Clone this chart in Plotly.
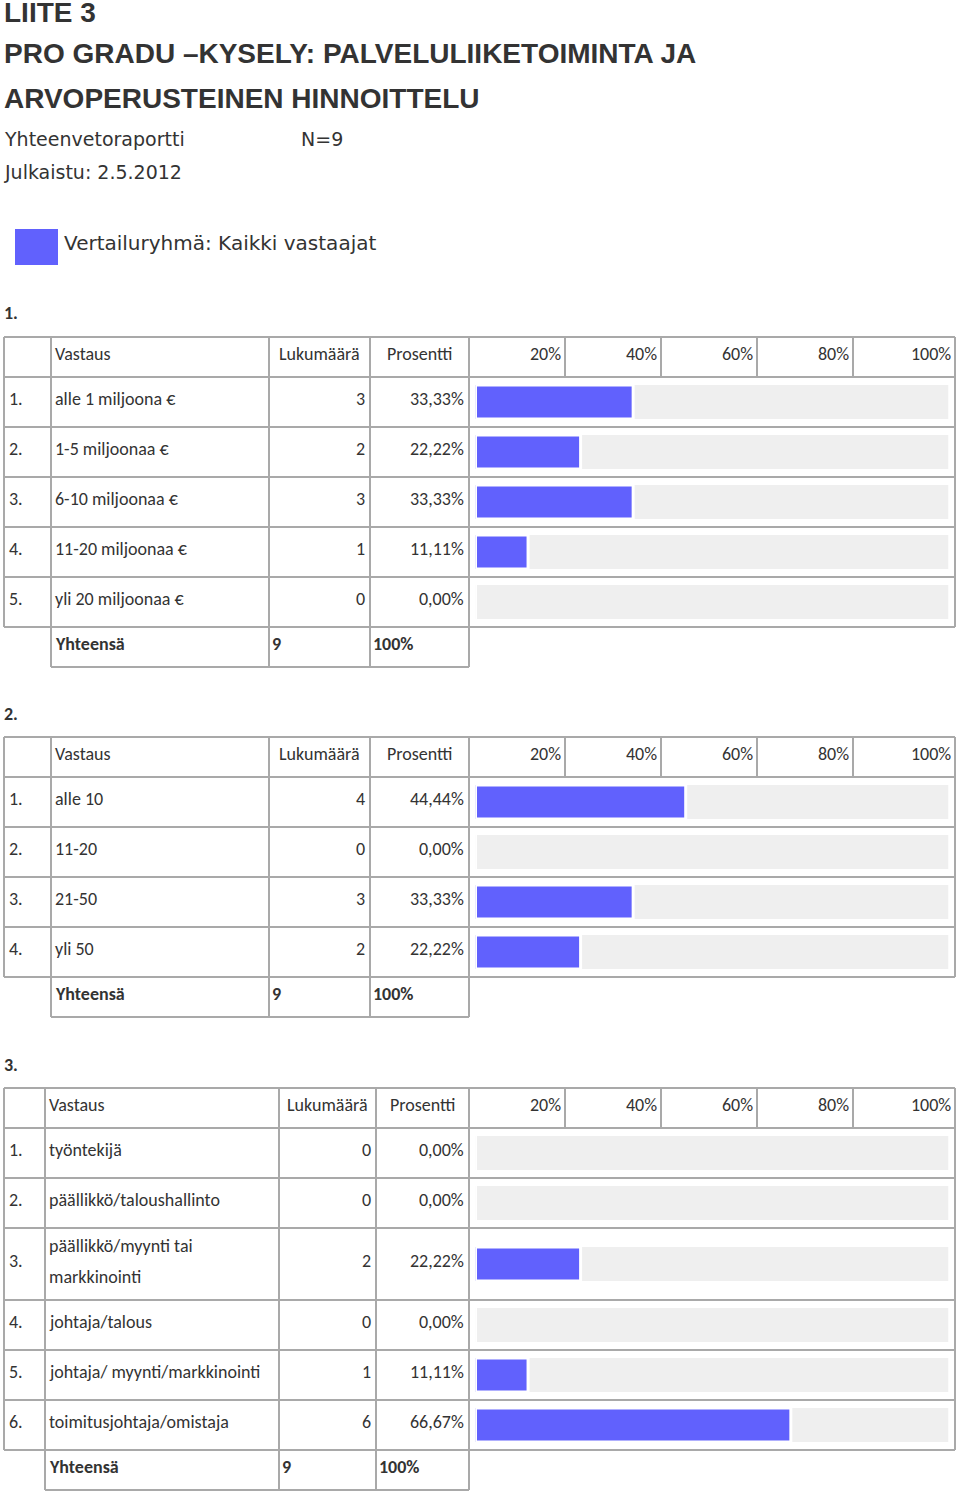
import plotly.graph_objects as go

W, H = 960, 1495

# ---------------- data ----------------
q1_labels = ["alle 1 miljoona €", "1-5 miljoonaa €", "6-10 miljoonaa €",
             "11-20 miljoonaa €", "yli 20 miljoonaa €"]
q1_counts = [3, 2, 3, 1, 0]
q1_pcts = [33.33, 22.22, 33.33, 11.11, 0.00]

q2_labels = ["alle 10", "11-20", "21-50", "yli 50"]
q2_counts = [4, 0, 3, 2]
q2_pcts = [44.44, 0.00, 33.33, 22.22]

q3_labels = ["työntekijä", "päällikkö/taloushallinto",
             "päällikkö/myynti tai\nmarkkinointi", "johtaja/talous",
             "johtaja/ myynti/markkinointi", "toimitusjohtaja/omistaja"]
q3_counts = [0, 0, 2, 0, 1, 6]
q3_pcts = [0.00, 0.00, 22.22, 0.00, 11.11, 66.67]

total_n = 9
total_pct = "100%"
header_labels = ["Vastaus", "Lukumäärä", "Prosentti"]
scale_ticks = ["20%", "40%", "60%", "80%", "100%"]

# ---------------- styles / layout config ----------------
BLUE = "#6161fd"
GRAY_BG = "#efefef"
LINE = "#a9a9a9"
TXT = "#333333"
TFONT = "Carlito, Lato, sans-serif"
TSIZE = 18
PAD_L = 2
PAD_R = 0

tables = [
    dict(num="1.", num_y=313, top=337, rows=[50] * 5, cols=[4, 51, 269, 370, 469],
         labels=q1_labels, counts=q1_counts, pcts=q1_pcts),
    dict(num="2.", num_y=714, top=737, rows=[50] * 4, cols=[4, 51, 269, 370, 469],
         labels=q2_labels, counts=q2_counts, pcts=q2_pcts),
    dict(num="3.", num_y=1065, top=1088, rows=[50, 50, 72, 50, 50, 50], cols=[4, 45, 279, 376, 469],
         labels=q3_labels, counts=q3_counts, pcts=q3_pcts),
]
HEADER_H = 40
TOTAL_H = 40
RIGHT = 955
PCT_COLS = [469, 565, 661, 757, 853, 955]
BAR_X0, BAR_X1 = 475.5, 948.5
BAR_H = 34


def X(px):
    return px / W


def Y(py):
    return 1 - py / H


shapes = []
annotations = []


def line(x0, y0, x1, y1, color=LINE, width=2):
    shapes.append(dict(type="line", xref="paper", yref="paper",
                       x0=X(x0), y0=Y(y0), x1=X(x1), y1=Y(y1),
                       line=dict(color=color, width=width)))


def text(s, x, y, anchor="left", size=TSIZE, family=TFONT, bold=False, color=TXT):
    if bold:
        s = "<b>" + s + "</b>"
    if anchor == "left":
        x -= PAD_L
    elif anchor == "right":
        x += PAD_R
    annotations.append(dict(text=s, x=X(x), y=Y(y), xref="paper", yref="paper",
                            xanchor=anchor, yanchor="middle", showarrow=False,
                            font=dict(family=family, size=size, color=color)))


def fmt_pct(p):
    return ("%.2f" % p).replace(".", ",") + "%"


fig = go.Figure()
layout_axes = {}
k = 0

# ---------------- header texts ----------------
HF = "Liberation Sans, Arial"
text("LIITE 3", 4, 12, size=28, family=HF, bold=True)
text("PRO GRADU –KYSELY: PALVELULIIKETOIMINTA JA", 4, 54, size=28, family=HF, bold=True)
text("ARVOPERUSTEINEN HINNOITTELU", 4, 98, size=28, family=HF, bold=True)
text("Yhteenvetoraportti", 4, 139, size=19, family="DejaVu Sans")
text("N=%d" % total_n, 301, 139, size=19, family="DejaVu Sans")
text("Julkaistu: 2.5.2012", 4, 172, size=19, family="DejaVu Sans")
shapes.append(dict(type="rect", xref="paper", yref="paper", x0=X(15), x1=X(58),
                   y0=Y(229), y1=Y(265), fillcolor=BLUE, line=dict(width=0)))
text("Vertailuryhmä: Kaikki vastaajat", 64, 243, size=20, family="DejaVu Sans")

# ---------------- tables ----------------
for t in tables:
    c = t["cols"]
    top = t["top"]
    text(t["num"], 4, t["num_y"], bold=True)
    hb = top + HEADER_H
    bounds = [hb]
    for h in t["rows"]:
        bounds.append(bounds[-1] + h)
    main_bottom = bounds[-1]
    tot_bottom = main_bottom + TOTAL_H

    # horizontal lines
    line(c[0], top, RIGHT, top)
    for b in bounds:
        line(c[0], b, RIGHT, b)
    line(c[1], tot_bottom, c[4], tot_bottom)
    # vertical lines
    line(c[0], top, c[0], main_bottom)
    for cx in c[1:5]:
        line(cx, top, cx, tot_bottom)
    line(RIGHT, top, RIGHT, main_bottom)
    for cx in PCT_COLS[1:-1]:
        line(cx, top, cx, hb)

    # header texts
    hy = top + HEADER_H / 2 - 3
    text(header_labels[0], c[1] + 4, hy)
    text(header_labels[1], (c[2] + c[3]) / 2, hy, anchor="center")
    text(header_labels[2], (c[3] + c[4]) / 2, hy, anchor="center")
    for i, lab in enumerate(scale_ticks):
        text(lab, PCT_COLS[i + 1] - 2, hy, anchor="right")

    # rows
    for i, (lab, cnt, pct) in enumerate(zip(t["labels"], t["counts"], t["pcts"])):
        y0, y1 = bounds[i], bounds[i + 1]
        cy = (y0 + y1) / 2 - 3
        text("%d." % (i + 1), 9, cy)
        parts = lab.split("\n")
        if len(parts) == 1:
            text(lab, c[1] + 4, cy)
        else:
            sp = 31
            for j, ptxt in enumerate(parts):
                text(ptxt, c[1] + 4, cy - sp / 2 * (len(parts) - 1) + sp * j)
        text(str(cnt), c[3] - 3, cy, anchor="right")
        text(fmt_pct(pct), c[4] - 3, cy, anchor="right")

        # bar axes
        k += 1
        sx = "" if k == 1 else str(k)
        bc = (y0 + y1) / 2
        layout_axes["xaxis" + sx] = dict(domain=[X(BAR_X0), X(BAR_X1)], range=[0, 100],
                                         visible=False, fixedrange=True,
                                         anchor="y" + sx)
        layout_axes["yaxis" + sx] = dict(domain=[Y(bc + BAR_H / 2), Y(bc - BAR_H / 2)],
                                         range=[-0.5, 0.5], visible=False, fixedrange=True,
                                         anchor="x" + sx)
        fig.add_trace(go.Bar(x=[100], y=[0], orientation="h", width=1,
                             marker=dict(color=GRAY_BG, line=dict(width=0)),
                             xaxis="x" + sx, yaxis="y" + sx, hoverinfo="skip",
                             showlegend=False))
        fig.add_trace(go.Bar(x=[pct], y=[0], orientation="h", width=1,
                             marker=dict(color=BLUE, line=dict(color="white", width=3)),
                             xaxis="x" + sx, yaxis="y" + sx,
                             hovertemplate=lab.replace("\n", " ") + ": %{x:.2f}%<extra></extra>",
                             showlegend=False))

    # total row
    ty = main_bottom + TOTAL_H / 2 - 3
    text("Yhteensä", c[1] + 4, ty, bold=True)
    text(str(total_n), c[2] + 3, ty, bold=True)
    text(total_pct, c[3] + 3, ty, bold=True)

fig.update_layout(width=W, height=H, margin=dict(l=0, r=0, t=0, b=0),
                  paper_bgcolor="white", plot_bgcolor="white",
                  barmode="overlay", shapes=shapes, annotations=annotations,
                  showlegend=False, **layout_axes)
fig.write_html("out.html")
